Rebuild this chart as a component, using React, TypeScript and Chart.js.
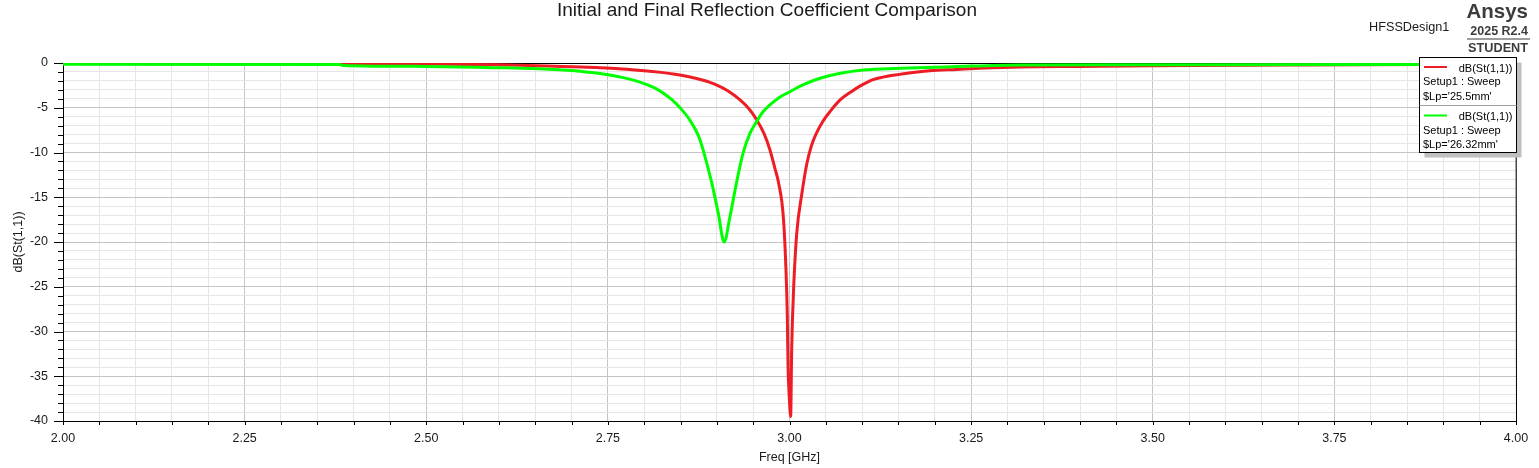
import React, { useEffect, useRef } from 'react';
import { Chart, registerables } from 'chart.js';

Chart.register(...registerables);

// S11 sweeps
const redFreq = [
  2.0, 2.2, 2.38, 2.45, 2.53, 2.6, 2.666, 2.7, 2.739, 2.77, 2.8, 2.82, 2.84, 2.86, 2.88, 2.9, 2.915,
  2.932, 2.945, 2.955, 2.965, 2.973, 2.98, 2.985, 2.9915, 2.995, 2.997, 2.998, 2.9995, 3.0016, 3.003,
  3.006, 3.01, 3.017, 3.024, 3.03, 3.037, 3.046, 3.056, 3.07, 3.085, 3.1, 3.115, 3.13, 3.152, 3.17,
  3.193, 3.23, 3.262, 3.317, 3.4, 3.5, 3.7, 4.0,
];
const redDb = [
  -0.05, -0.06, -0.06, -0.08, -0.14, -0.2, -0.33, -0.42, -0.52, -0.66, -0.86, -1.02, -1.22, -1.5,
  -1.9, -2.46, -3.1, -4.13, -5.2, -6.37, -7.9, -9.7, -11.8, -13.4, -17.2, -22.8, -28.3, -33.9, -37.0,
  -39.5, -32.0, -24.6, -19.0, -14.6, -11.2, -9.3, -7.86, -6.5, -5.4, -4.1, -3.2, -2.45, -1.85, -1.55,
  -1.27, -1.05, -0.86, -0.72, -0.6, -0.45, -0.38, -0.3, -0.22, -0.15,
];

const greenFreq = [
  2.0, 2.38, 2.385, 2.5, 2.6, 2.647, 2.7, 2.72, 2.739, 2.76, 2.78, 2.8, 2.815, 2.826, 2.838, 2.85,
  2.863, 2.876, 2.8814, 2.893, 2.902, 2.91, 2.918, 2.927, 2.936, 2.9456, 2.9548, 2.963, 2.973, 2.985,
  3.0007, 3.02, 3.042, 3.07, 3.1016, 3.152, 3.225, 3.317, 3.5, 3.8, 4.0,
];
const greenDb = [
  -0.15, -0.16, -0.27, -0.38, -0.52, -0.62, -0.85, -1.0, -1.18, -1.45, -1.8, -2.3, -2.8, -3.35, -4.1,
  -5.06, -6.4, -8.4, -9.8, -13.4, -16.8, -20.0, -17.2, -13.4, -10.1, -7.86, -6.55, -5.5, -4.69, -3.9,
  -3.2, -2.4, -1.71, -1.15, -0.78, -0.6, -0.41, -0.22, -0.2, -0.18, -0.17,
];

const xMajor = [2.0, 2.25, 2.5, 2.75, 3.0, 3.25, 3.5, 3.75, 4.0];
const yMajor = [0, -5, -10, -15, -20, -25, -30, -35, -40];

const legendEntries = [
  { expr: 'dB(St(1,1))', setup: 'Setup1 : Sweep', variation: "$Lp='25.5mm'" },
  { expr: 'dB(St(1,1))', setup: 'Setup1 : Sweep', variation: "$Lp='26.32mm'" },
];

const RED = '#ee1c24';
const GREEN = '#00ff00';
const COLORS = [RED, GREEN];
const FONT = '"Liberation Sans", Arial, sans-serif';

const isMajorX = (v: number) => xMajor.some((m) => Math.abs(m - v) < 1e-6);
const isMajorY = (v: number) => yMajor.some((m) => Math.abs(m - v) < 1e-6);

const hfssPlugin = {
  id: 'hfssDecor',
  beforeDatasetsDraw(chart: any) {
    const { ctx, chartArea: a, scales } = chart;
    ctx.save();
    ctx.strokeStyle = '#000';
    ctx.lineWidth = 1;
    // frame on top and right
    ctx.beginPath();
    ctx.moveTo(Math.round(a.left), Math.round(a.top) + 0.5);
    ctx.lineTo(Math.round(a.right), Math.round(a.top) + 0.5);
    ctx.lineTo(Math.round(a.right) + 0.5, Math.round(a.bottom));
    ctx.stroke();
    // tick marks
    scales.y.ticks.forEach((t: any) => {
      const py = Math.round(scales.y.getPixelForValue(t.value)) + 0.5;
      const len = isMajorY(t.value) ? 9 : 5;
      ctx.beginPath();
      ctx.moveTo(a.left - len, py);
      ctx.lineTo(a.left, py);
      ctx.stroke();
    });
    scales.x.ticks.forEach((t: any) => {
      const px = Math.round(scales.x.getPixelForValue(t.value)) + 0.5;
      ctx.beginPath();
      ctx.moveTo(px, a.bottom);
      ctx.lineTo(px, a.bottom + 4);
      ctx.stroke();
    });
    ctx.restore();
  },
  afterDraw(chart: any) {
    const { ctx } = chart;
    ctx.save();
    ctx.textBaseline = 'middle';

    ctx.fillStyle = '#1a1a1a';
    ctx.font = `19px ${FONT}`;
    ctx.textAlign = 'center';
    ctx.fillText('Initial and Final Reflection Coefficient Comparison', 767, 10.5);

    ctx.font = `12.7px ${FONT}`;
    ctx.textAlign = 'left';
    ctx.fillText('HFSSDesign1', 1369, 27);

    ctx.fillStyle = '#3c3c3c';
    ctx.textAlign = 'right';
    ctx.font = `bold 20.5px ${FONT}`;
    ctx.fillText('Ansys', 1528, 12);
    ctx.font = `bold 12.5px ${FONT}`;
    ctx.fillText('2025 R2.4', 1528, 31.5);
    ctx.fillRect(1467, 38.5, 63, 1);
    ctx.font = `bold 12.7px ${FONT}`;
    ctx.fillText('STUDENT', 1528, 48.5);

    // legend
    const lx = 1419.5;
    const ly = 57.5;
    const lw = 97;
    const lh = 95;
    ctx.fillStyle = '#c0c0c0';
    ctx.fillRect(lx + 5, ly + 5, lw, lh);
    ctx.fillStyle = '#fff';
    ctx.fillRect(lx, ly, lw, lh);
    ctx.strokeStyle = '#000';
    ctx.lineWidth = 1;
    ctx.strokeRect(lx, ly, lw, lh);
    ctx.strokeStyle = '#a0a0a0';
    ctx.beginPath();
    ctx.moveTo(lx, 105.5);
    ctx.lineTo(lx + lw, 105.5);
    ctx.stroke();

    ctx.font = `11px ${FONT}`;
    legendEntries.forEach((e, i) => {
      const top = 67 + i * 48.5;
      ctx.strokeStyle = COLORS[i];
      ctx.lineWidth = 2;
      ctx.beginPath();
      ctx.moveTo(1424, top);
      ctx.lineTo(1447, top);
      ctx.stroke();
      ctx.fillStyle = '#000';
      ctx.textAlign = 'right';
      ctx.fillText(e.expr, 1512.5, top + 1.5);
      ctx.textAlign = 'left';
      ctx.fillText(e.setup, 1423, top + 15);
      ctx.fillText(e.variation, 1423, top + 29.5);
    });
    ctx.restore();
  },
};

const App: React.FC = () => {
  const canvasRef = useRef<HTMLCanvasElement>(null);
  const chartRef = useRef<Chart>();

  useEffect(() => {
    if (!canvasRef.current) return;
    chartRef.current = new Chart(canvasRef.current, {
      type: 'line',
      data: {
        datasets: [
          {
            label: 'dB(St(1,1)) 26.32mm',
            data: greenFreq.map((f, i) => ({ x: f, y: greenDb[i] })),
            borderColor: GREEN,
            borderWidth: 3,
            pointRadius: 0,
            cubicInterpolationMode: 'monotone',
            order: 0,
          },
          {
            label: 'dB(St(1,1)) 25.5mm',
            data: redFreq.map((f, i) => ({ x: f, y: redDb[i] })),
            borderColor: RED,
            borderWidth: 3,
            pointRadius: 0,
            cubicInterpolationMode: 'monotone',
            order: 1,
          },
        ],
      },
      options: {
        responsive: false,
        animation: false,
        layout: { padding: { top: 63, right: 23, left: 0, bottom: 0 } },
        plugins: {
          legend: { display: false },
          tooltip: { enabled: false },
        },
        scales: {
          x: {
            type: 'linear',
            min: 2,
            max: 4,
            afterFit: (s: any) => {
              s.height = 47;
            },
            grid: {
              color: (c: any) => (isMajorX(c.tick.value) ? '#c4c4c4' : '#e6e6e6'),
              drawTicks: false,
            },
            border: { color: '#000', width: 1 },
            ticks: {
              stepSize: 0.05,
              autoSkip: false,
              maxRotation: 0,
              padding: 10,
              color: '#1a1a1a',
              font: { family: FONT, size: 12.5 },
              callback: (v: any) => (isMajorX(v) ? Number(v).toFixed(2) : ''),
            },
            title: {
              display: true,
              text: 'Freq [GHz]',
              color: '#1a1a1a',
              font: { family: FONT, size: 12.5 },
              padding: { top: 0, bottom: 3 },
            },
          },
          y: {
            type: 'linear',
            min: -40,
            max: 0,
            afterFit: (s: any) => {
              s.width = 63;
            },
            grid: {
              color: (c: any) => (isMajorY(c.tick.value) ? '#c4c4c4' : '#e6e6e6'),
              drawTicks: false,
            },
            border: { color: '#000', width: 1 },
            ticks: {
              stepSize: 1,
              autoSkip: false,
              padding: 15,
              color: '#1a1a1a',
              font: { family: FONT, size: 12.5 },
              callback: (v: any) => (isMajorY(v) ? String(Math.round(v)) : ''),
            },
            title: {
              display: true,
              text: 'dB(St(1,1))',
              color: '#1a1a1a',
              font: { family: FONT, size: 12.5 },
              padding: { top: 11, bottom: 0 },
            },
          },
        },
      },
      plugins: [hfssPlugin],
    });

    return () => {
      if (chartRef.current) {
        chartRef.current.destroy();
      }
    };
  }, []);

  return (
    <div style={{ position: 'fixed', left: 0, top: 0, width: 1539, height: 468, background: '#fff' }}>
      <canvas ref={canvasRef} width={1539} height={468} />
    </div>
  );
};

export default App;
